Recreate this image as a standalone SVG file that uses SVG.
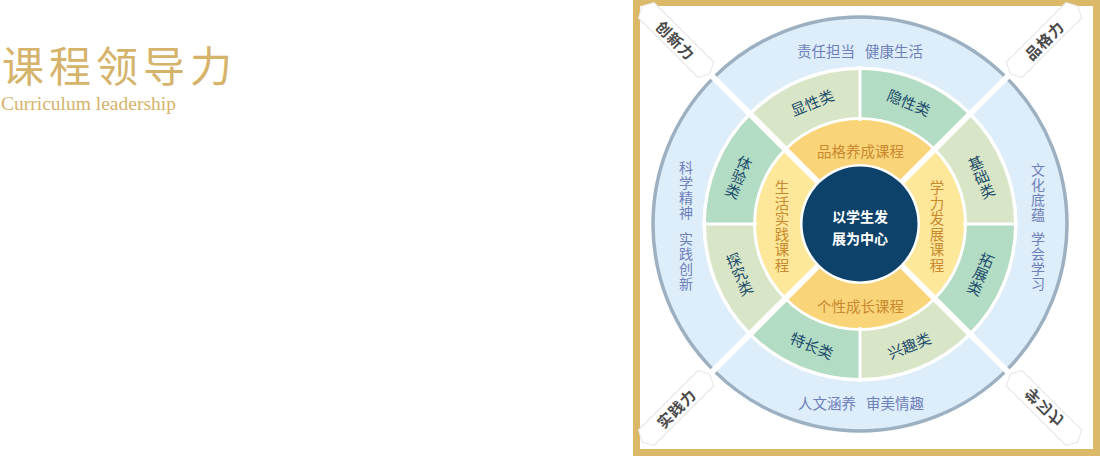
<svg xmlns="http://www.w3.org/2000/svg" width="1100" height="456" viewBox="0 0 1100 456">
  <style>
    .cjk{font-family:"Noto Sans CJK SC","Noto Sans",sans-serif}
    .outer{font-size:14.5px;fill:#6f7fba;text-anchor:middle;dominant-baseline:central}
    .outv{font-size:14px}
    .green{font-size:15px;fill:#1e4d6b;text-anchor:middle;dominant-baseline:central}
    .yel{font-size:14.5px;fill:#c98a2f;text-anchor:middle;dominant-baseline:central}
    .ctr{font-size:14px;font-weight:bold;fill:#ffffff;text-anchor:middle;dominant-baseline:central}
    .tagtxt{font-size:15px;font-weight:bold;fill:#4a4a4a;text-anchor:middle;dominant-baseline:central;letter-spacing:1px}
    .tag{fill:#ffffff;stroke:#e4e4e4;stroke-width:1}
    .div{stroke:#ffffff;stroke-width:3}
    .diag{stroke:#ffffff;stroke-width:6}
  </style>
  <defs>
    <polygon id="tagshape" points="-48,0 -42,-11 42,-11 48,0 42,11 -42,11"/>
  </defs>
  <rect width="1100" height="456" fill="#ffffff"/>

  <g id="title">
    <text x="2" y="82" class="cjk" font-size="42" font-weight="400" letter-spacing="5" fill="#d5b36b">课程领导力</text>
    <text x="1" y="110" font-family="Liberation Serif,serif" font-size="19.5" fill="#d5b36b">Curriculum leadership</text>
  </g>

  <g id="frame">
    <rect x="633" y="0" width="467" height="456" fill="#dcb968"/>
    <rect x="640" y="6" width="453" height="443" fill="#ffffff"/>
  </g>

  <g id="ring-outer">
    <circle cx="860" cy="224" r="207" fill="#ddedf9" stroke="#9cb0c2" stroke-width="3.5"/>
    <circle cx="860" cy="224" r="157.5" fill="#ffffff"/>
    <g class="cjk outer">
      <text x="826" y="50">责任担当</text>
      <text x="894" y="50">健康生活</text>
      <text x="827" y="402">人文涵养</text>
      <text x="895" y="402">审美情趣</text>
      <text class="outv"><tspan x="686" y="167">科</tspan><tspan x="686" y="182">学</tspan><tspan x="686" y="197">精</tspan><tspan x="686" y="212">神</tspan></text>
      <text class="outv"><tspan x="686" y="238">实</tspan><tspan x="686" y="253">践</tspan><tspan x="686" y="268">创</tspan><tspan x="686" y="283">新</tspan></text>
      <text class="outv"><tspan x="1038" y="169">文</tspan><tspan x="1038" y="184">化</tspan><tspan x="1038" y="199">底</tspan><tspan x="1038" y="214">蕴</tspan></text>
      <text class="outv"><tspan x="1038" y="238">学</tspan><tspan x="1038" y="253">会</tspan><tspan x="1038" y="268">学</tspan><tspan x="1038" y="283">习</tspan></text>
    </g>
  </g>

  <g id="ring-green">
    <circle cx="860" cy="224" r="130.5" fill="none" stroke="#d8e6c7" stroke-width="47"/>
    <path fill="#b3dcc5" d="M1014,224 A154,154 0 0 1 968.89,332.89 L935.66,299.66 A107,107 0 0 0 967,224 Z"/>
    <path fill="#b3dcc5" d="M860,378 A154,154 0 0 1 751.11,332.89 L784.34,299.66 A107,107 0 0 0 860,331 Z"/>
    <path fill="#b3dcc5" d="M706,224 A154,154 0 0 1 751.11,115.11 L784.34,148.34 A107,107 0 0 0 753,224 Z"/>
    <path fill="#b3dcc5" d="M860,70 A154,154 0 0 1 968.89,115.11 L935.66,148.34 A107,107 0 0 0 860,117 Z"/>
    <g class="cjk green">
      <text transform="translate(812,102) rotate(-22.5)">显性类</text>
      <text transform="translate(909,102) rotate(22.5)">隐性类</text>
      <text transform="translate(909,345) rotate(-22.5)">兴趣类</text>
      <text transform="translate(812,345) rotate(22.5)">特长类</text>
      <text transform="translate(981,176) rotate(-22.5)"><tspan x="0" y="-15">基</tspan><tspan x="0" y="0">础</tspan><tspan x="0" y="15">类</tspan></text>
      <text transform="translate(981,273) rotate(22.5)"><tspan x="0" y="-15">拓</tspan><tspan x="0" y="0">展</tspan><tspan x="0" y="15">类</tspan></text>
      <text transform="translate(739,273) rotate(-22.5)"><tspan x="0" y="-15">探</tspan><tspan x="0" y="0">究</tspan><tspan x="0" y="15">类</tspan></text>
      <text transform="translate(739,176) rotate(22.5)"><tspan x="0" y="-15">体</tspan><tspan x="0" y="0">验</tspan><tspan x="0" y="15">类</tspan></text>
    </g>
  </g>

  <g id="ring-yellow">
    <circle cx="860" cy="224" r="82" fill="none" stroke="#fde79a" stroke-width="44"/>
    <path fill="#f9d479" d="M933.54,297.54 A104,104 0 0 1 786.46,297.54 L817.57,266.43 A60,60 0 0 0 902.43,266.43 Z"/>
    <path fill="#f9d479" d="M786.46,150.46 A104,104 0 0 1 933.54,150.46 L902.43,181.57 A60,60 0 0 0 817.57,181.57 Z"/>
    <g class="cjk yel">
      <text x="860.5" y="150">品格养成课程</text>
      <text x="860.5" y="305">个性成长课程</text>
      <text><tspan x="782" y="186">生</tspan><tspan x="782" y="201.5">活</tspan><tspan x="782" y="217">实</tspan><tspan x="782" y="232.5">践</tspan><tspan x="782" y="248">课</tspan><tspan x="782" y="263.5">程</tspan></text>
      <text><tspan x="937" y="186">学</tspan><tspan x="937" y="201.5">力</tspan><tspan x="937" y="217">发</tspan><tspan x="937" y="232.5">展</tspan><tspan x="937" y="248">课</tspan><tspan x="937" y="263.5">程</tspan></text>
    </g>
  </g>

  <g id="connectors">
    <line class="div" x1="860" y1="66" x2="860" y2="121"/>
    <line class="div" x1="860" y1="327" x2="860" y2="382"/>
    <line class="div" x1="702" y1="224" x2="757" y2="224"/>
    <line class="div" x1="963" y1="224" x2="1018" y2="224"/>
    <line class="diag" x1="818" y1="182" x2="711" y2="75"/>
    <line class="diag" x1="902" y1="182" x2="1009" y2="75"/>
    <line class="diag" x1="818" y1="266" x2="711" y2="373"/>
    <line class="diag" x1="902" y1="266" x2="1009" y2="373"/>
  </g>

  <g id="center">
    <circle cx="860" cy="224" r="57.5" fill="#0d426a"/>
    <text class="cjk ctr" x="860" y="216">以学生发</text>
    <text class="cjk ctr" x="860" y="238">展为中心</text>
  </g>

  <g id="tag-chuangxin" transform="translate(676,40) rotate(45)">
    <use href="#tagshape" class="tag"/>
    <text class="cjk tagtxt" x="0" y="0">创新力</text>
  </g>
  <g id="tag-pinge" transform="translate(1044,40) rotate(-45)">
    <use href="#tagshape" class="tag"/>
    <text class="cjk tagtxt" x="0" y="0">品格力</text>
  </g>
  <g id="tag-shijian" transform="translate(676,408) rotate(-45)">
    <use href="#tagshape" class="tag"/>
    <text class="cjk tagtxt" x="0" y="0">实践力</text>
  </g>
  <g id="tag-xuexi" transform="translate(1044,408) rotate(45) scale(1,-1)">
    <use href="#tagshape" class="tag"/>
    <text class="cjk tagtxt" x="0" y="0">学习力</text>
  </g>
</svg>
